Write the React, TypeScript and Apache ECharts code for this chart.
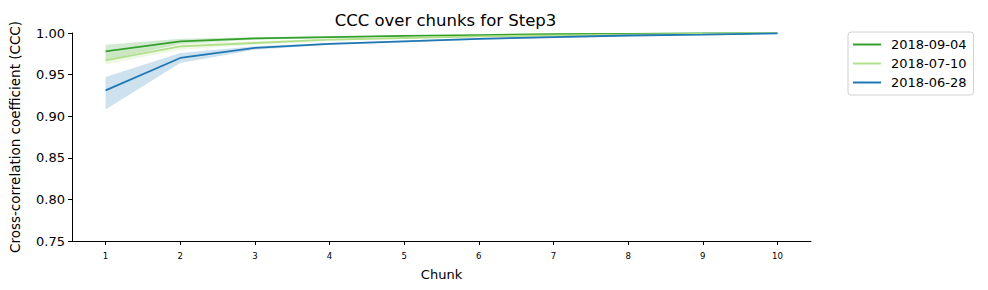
import React, { useEffect, useRef } from "react";
import * as echarts from "echarts";

const chunks = [1, 2, 3, 4, 5, 6, 7, 8, 9, 10];
const seriesNames = ["2018-09-04", "2018-07-10", "2018-06-28"];
const colors = ["#33a02c", "#b2df8a", "#1f78b4"];

const mean0904 = [0.978, 0.99, 0.9935, 0.995, 0.9965, 0.9975, 0.9985, 0.999, 0.9995, 1.0];
const lower0904 = [0.967, 0.987, 0.992, 0.994, 0.996, 0.997, 0.998, 0.9986, 0.9993, 0.9999];
const upper0904 = [0.986, 0.993, 0.995, 0.996, 0.997, 0.998, 0.999, 0.9993, 0.9997, 1.0];

const mean0710 = [0.967, 0.984, 0.988, 0.992, 0.994, 0.996, 0.997, 0.998, 0.999, 1.0];
const lower0710 = [0.962, 0.98, 0.986, 0.99, 0.993, 0.995, 0.9965, 0.9975, 0.9985, 0.9998];
const upper0710 = [0.975, 0.988, 0.99, 0.993, 0.995, 0.997, 0.998, 0.9985, 0.9993, 1.0];

const mean0628 = [0.931, 0.97, 0.982, 0.987, 0.99, 0.993, 0.995, 0.997, 0.998, 0.9995];
const lower0628 = [0.908, 0.964, 0.98, 0.986, 0.989, 0.992, 0.994, 0.996, 0.9975, 0.9993];
const upper0628 = [0.947, 0.976, 0.984, 0.988, 0.991, 0.994, 0.996, 0.998, 0.9988, 0.9998];

const yTicks = [0.75, 0.8, 0.85, 0.9, 0.95, 1.0];

const FONT = "DejaVu Sans";

function bandSeries(idx: number, lower: number[], upper: number[]) {
  return {
    name: "band" + idx,
    type: "custom",
    silent: true,
    z: 1,
    data: chunks.map((c, i) => [c, lower[i], upper[i]]),
    encode: { x: 0, y: [1, 2] },
    renderItem: (params: any, api: any) => {
      if (params.dataIndex !== 0) return null;
      const top = chunks.map((c, i) => api.coord([c, upper[i]]));
      const bot = chunks.map((c, i) => api.coord([c, lower[i]])).reverse();
      return {
        type: "polygon",
        shape: { points: top.concat(bot) },
        style: { fill: colors[idx], opacity: 0.22 },
      };
    },
  };
}

function meanSeries(idx: number, mean: number[]) {
  return {
    name: seriesNames[idx],
    type: "line",
    data: chunks.map((c, i) => [c, mean[i]]),
    lineStyle: { color: colors[idx], width: 1.8 },
    itemStyle: { color: colors[idx] },
    symbol: "none",
    z: 3 + idx,
  };
}

export default function App() {
  const ref = useRef<HTMLDivElement>(null);
  useEffect(() => {
    if (!ref.current) return;
    const chart = echarts.init(ref.current, undefined, { renderer: "svg" });
    chart.setOption({
      animation: false,
      textStyle: { fontFamily: FONT },
      title: {
        text: "CCC over chunks for Step3",
        left: 440.5,
        top: 7,
        textAlign: "center",
        textStyle: { fontFamily: FONT, fontSize: 16.5, fontWeight: "normal", color: "#000" },
      },
      legend: {
        data: seriesNames.map((n, i) => ({ name: n, itemStyle: { color: colors[i] } })),
        orient: "vertical",
        left: 848,
        top: 32,
        icon: "rect",
        itemWidth: 28,
        itemHeight: 2,
        itemGap: 6,
        padding: [6, 7, 6, 5],
        borderColor: "#d0d0d0",
        borderWidth: 1,
        borderRadius: 3,
        textStyle: { fontFamily: FONT, fontSize: 13, color: "#000", padding: [0, 0, 0, 5] },
      },
      grid: { left: 70, right: 177, top: 33, bottom: 49, containLabel: false },
      xAxis: {
        type: "value",
        min: 0.55,
        max: 10.45,
        name: "Chunk",
        nameLocation: "middle",
        nameGap: 27,
        nameTextStyle: { fontFamily: FONT, fontSize: 13, color: "#000" },
        axisLine: { lineStyle: { color: "#000", width: 1 } },
        axisTick: { show: true, length: 4, lineStyle: { color: "#000" }, customValues: chunks },
        axisLabel: {
          fontFamily: "DejaVu Sans Condensed, DejaVu Sans",
          fontSize: 9.5,
          color: "#000",
          customValues: chunks,
          margin: 9,
        },
        splitLine: { show: false },
      },
      yAxis: {
        type: "value",
        min: 0.75,
        max: 1.0,
        interval: 0.05,
        name: "Cross-correlation coefficient (CCC)",
        nameLocation: "middle",
        nameGap: 50,
        nameRotate: 90,
        nameTextStyle: { fontFamily: FONT, fontSize: 13.5, color: "#000" },
        axisLine: { show: true, lineStyle: { color: "#000", width: 1 } },
        axisTick: { show: true, length: 4, lineStyle: { color: "#000" }, customValues: yTicks },
        axisLabel: {
          fontFamily: FONT,
          fontSize: 13,
          color: "#000",
          margin: 7,
          customValues: yTicks,
          formatter: (v: number) => v.toFixed(2),
        },
        splitLine: { show: false },
      },
      series: [
        bandSeries(0, lower0904, upper0904),
        bandSeries(1, lower0710, upper0710),
        bandSeries(2, lower0628, upper0628),
        meanSeries(0, mean0904),
        meanSeries(1, mean0710),
        meanSeries(2, mean0628),
      ],
    });
    return () => chart.dispose();
  }, []);
  return (
    <div
      ref={ref}
      style={{ position: "absolute", left: 0, top: 0, width: 988, height: 290 }}
    />
  );
}
